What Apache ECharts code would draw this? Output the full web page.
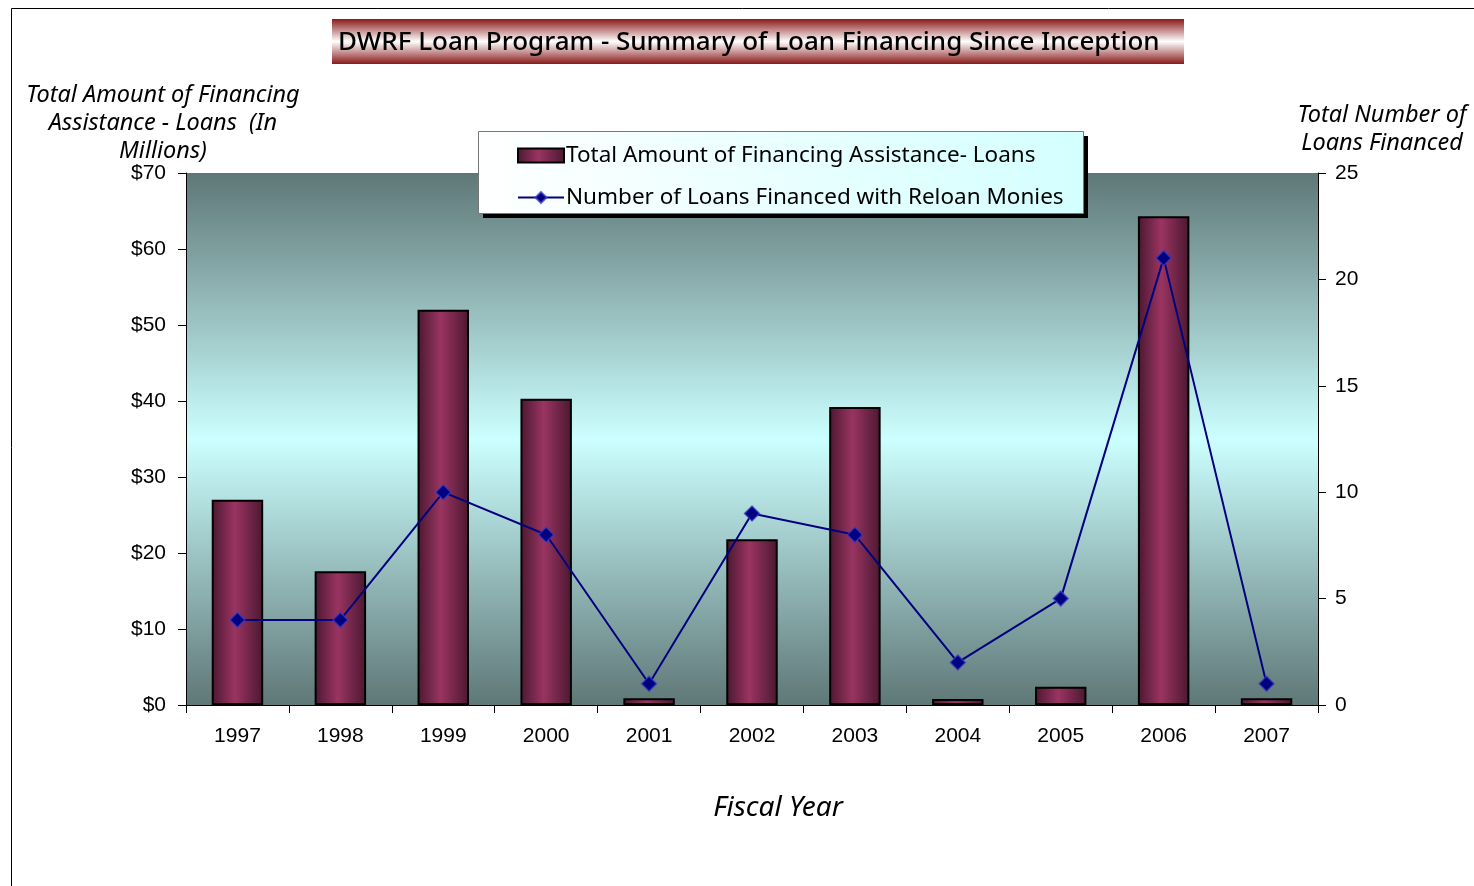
<!DOCTYPE html>
<html>
<head>
<meta charset="utf-8">
<script src="https://cdn.jsdelivr.net/npm/echarts@6/dist/echarts.min.js"></script>
<style>html,body{margin:0;padding:0;background:#fff}#c{width:1474px;height:886px}</style>
</head>
<body>
<div id="c"></div>
<script>
const categories = ['1997','1998','1999','2000','2001','2002','2003','2004','2005','2006','2007'];
const amounts = [27.0, 17.6, 52.0, 40.3, 0.9, 21.8, 39.2, 0.8, 2.4, 64.3, 0.9];
const loans = [4, 4, 10, 8, 1, 9, 8, 2, 5, 21, 1];
const titleText = 'DWRF Loan Program - Summary of Loan Financing Since Inception';
const barName = 'Total Amount of Financing Assistance- Loans';
const lineName = 'Number of Loans Financed with Reloan Monies';
const leftAxisName = 'Total Amount of Financing\nAssistance - Loans  (In\nMillions)';
const rightAxisName = 'Total Number of\nLoans Financed';
const xAxisName = 'Fiscal Year';

const chart = echarts.init(document.getElementById('c'));
const G = echarts.graphic;
const barGrad = new G.LinearGradient(0, 0, 1, 0, [
  {offset: 0, color: '#4a1830'},
  {offset: 0.45, color: '#9a3462'},
  {offset: 1, color: '#4a1830'}
]);
const italic = {fontFamily: 'Noto Sans', fontStyle: 'italic', fontWeight: 'normal', fontSize: 23.5, color: '#000', lineHeight: 28, align: 'center'};

chart.setOption({
  animation: false,
  title: [
    {text: titleText, left: 333, top: 25, textStyle: {fontFamily: 'Noto Sans', fontWeight: 500, fontSize: 26, color: '#000'}, z: 12},
    {text: leftAxisName, left: 158, top: 76, textAlign: 'center', textStyle: italic},
    {text: rightAxisName, left: 1377, top: 96, textAlign: 'center', textStyle: italic},
    {text: xAxisName, left: 773, top: 789, textAlign: 'center', textStyle: {fontFamily: 'Noto Sans', fontStyle: 'italic', fontWeight: 'normal', fontSize: 28, color: '#000'}}
  ],
  graphic: [
    {type: 'line', shape: {x1: 11.5, y1: 8.5, x2: 1474, y2: 8.5}, style: {stroke: '#000', lineWidth: 1}, z: 1},
    {type: 'line', shape: {x1: 11.5, y1: 8.5, x2: 11.5, y2: 886}, style: {stroke: '#000', lineWidth: 1}, z: 1},
    {type: 'rect', shape: {x: 332, y: 19, width: 852, height: 45}, style: {fill: new G.LinearGradient(0, 0, 0, 1, [
      {offset: 0, color: '#8a1a1a'}, {offset: 0.5, color: '#ffffff'}, {offset: 1, color: '#8a1a1a'}])}, z: 11},
    {type: 'rect', shape: {x: 483, y: 136, width: 605, height: 82}, style: {fill: '#000'}, z: 8},
    {type: 'rect', shape: {x: 478.5, y: 131.5, width: 605, height: 82}, style: {fill: new G.LinearGradient(0, 0, 1, 0, [
      {offset: 0, color: '#ffffff'}, {offset: 1, color: '#d4ffff'}]), stroke: '#777', lineWidth: 1}, z: 9}
  ],
  legend: {
    orient: 'vertical', left: 512, top: 139, itemGap: 19, itemWidth: 46, itemHeight: 14, z: 20,
    textStyle: {fontFamily: 'Noto Sans', fontSize: 22.5, color: '#000', padding: [0, 0, 0, -3]},
    data: [
      {name: barName, icon: 'rect', itemStyle: {color: barGrad, borderColor: '#000', borderWidth: 2}},
      {name: lineName}
    ]
  },
  grid: {left: 186, right: 156, top: 173, bottom: 181, show: true, borderWidth: 0,
    backgroundColor: new G.LinearGradient(0, 0, 0, 1, [
      {offset: 0, color: '#5f7777'}, {offset: 0.5, color: '#ccffff'}, {offset: 1, color: '#5f7777'}])},
  xAxis: {
    type: 'category', data: categories, boundaryGap: true,
    axisLine: {lineStyle: {color: '#000', width: 1}},
    axisTick: {show: true, length: 8, alignWithLabel: false, lineStyle: {color: '#000'}},
    axisLabel: {fontFamily: 'Liberation Sans', fontSize: 21, color: '#000', margin: 21}
  },
  yAxis: [
    {type: 'value', min: 0, max: 70, interval: 10, position: 'left',
      axisLine: {show: true, lineStyle: {color: '#000', width: 1}},
      axisTick: {show: true, length: 8, inside: false, lineStyle: {color: '#000'}},
      axisLabel: {fontFamily: 'Liberation Sans', fontSize: 21, color: '#000', margin: 20, formatter: v => '$' + v},
      splitLine: {show: false}},
    {type: 'value', min: 0, max: 25, interval: 5, position: 'right',
      axisLine: {show: true, lineStyle: {color: '#000', width: 1}},
      axisTick: {show: true, length: 8, inside: false, lineStyle: {color: '#000'}},
      axisLabel: {fontFamily: 'Liberation Sans', fontSize: 21, color: '#000', margin: 17},
      splitLine: {show: false}}
  ],
  series: [
    {name: barName, type: 'bar', yAxisIndex: 0, data: amounts, barWidth: '50%',
      itemStyle: {color: barGrad, borderColor: '#000', borderWidth: 2}},
    {name: lineName, type: 'line', yAxisIndex: 1, data: loans, symbol: 'diamond', symbolSize: 15,
      lineStyle: {color: '#000080', width: 2},
      itemStyle: {color: '#000080', borderColor: 'rgba(60,60,200,0.7)', borderWidth: 1.5}, z: 3}
  ]
});
</script>
</body>
</html>
